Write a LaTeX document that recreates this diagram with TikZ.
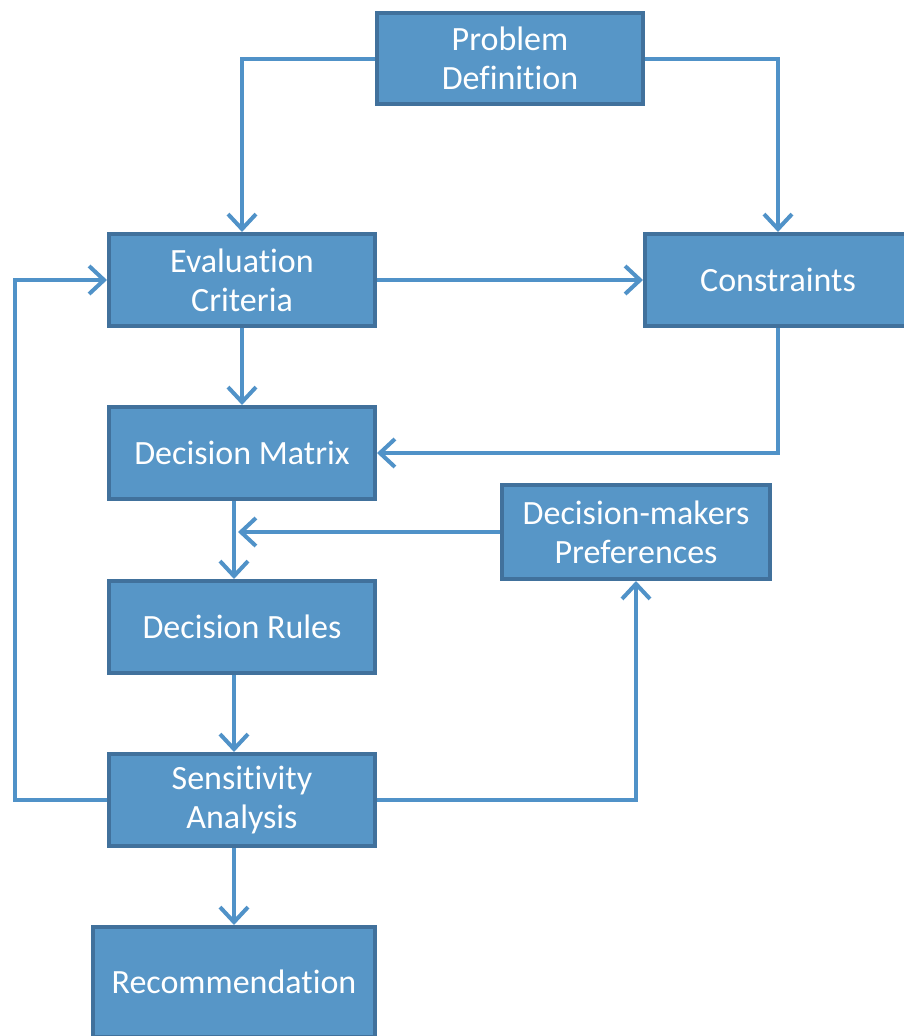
\documentclass[tikz,border=0pt]{standalone}
\usepackage{fontspec}
\setmainfont{Carlito}[Ligatures=NoCommon]
\usetikzlibrary{arrows.meta}
\definecolor{boxfill}{RGB}{87,150,199}
\definecolor{boxline}{RGB}{65,113,156}
\definecolor{link}{RGB}{80,146,200}
\begin{document}
\begin{tikzpicture}[x=1pt,y=-1pt,
  box/.style={rectangle, draw=boxline, fill=boxfill, line width=4pt,
    text=white, align=center, inner sep=0pt,
    font=\fontsize{34}{39}\selectfont},
  flow/.style={draw=link, line width=4pt,
    -{Straight Barb[length=15pt,width=28pt,line width=4pt]}}]
\useasboundingbox (0,0) rectangle (904,1036);
\clip (0,0) rectangle (904,1036);

% process boxes
\node[box, minimum width=266pt, minimum height=91pt] (pd) at (510,58.5) {Problem\\Definition};
\node[box, minimum width=266pt, minimum height=92pt] (ec) at (242,280) {Evaluation\\Criteria};
\node[box, minimum width=266pt, minimum height=92pt] (co) at (778,280) {Constraints};
\node[box, minimum width=266pt, minimum height=92pt] (dm) at (242,453) {Decision Matrix};
\node[box, minimum width=268pt, minimum height=94pt] (dmp) at (636,532) {Decision-makers\\Preferences};
\node[box, minimum width=266pt, minimum height=92pt] (dr) at (242,627) {Decision Rules};
\node[box, minimum width=266pt, minimum height=92pt] (sa) at (242,800) {Sensitivity\\Analysis};
\node[box, minimum width=282pt, minimum height=110pt] (rec) at (234,982) {Recommendation};

% junction points of the connectors
\coordinate (join) at (234,532);
\coordinate (loop) at (15,800);

% connectors
\draw[flow] (pd.west) -| (ec.north);
\draw[flow] (pd.east) -| (co.north);
\draw[flow] (ec.east) -- (co.west);
\draw[flow] (ec.south) -- (dm.north);
\draw[flow] (co.south) |- (dm.east);
\draw[flow] (dmp.west) -- ([xshift=4pt]join);
\draw[flow] ([xshift=-8pt]dm.south) -- ([xshift=-8pt]dr.north);
\draw[flow] ([xshift=-8pt]dr.south) -- ([xshift=-8pt]sa.north);
\draw[flow] (sa.east) -| (dmp.south);
\draw[flow] (sa.west) -- (loop) |- (ec.west);
\draw[flow] ([xshift=-8pt]sa.south) -- (rec.north);
\end{tikzpicture}
\end{document}
